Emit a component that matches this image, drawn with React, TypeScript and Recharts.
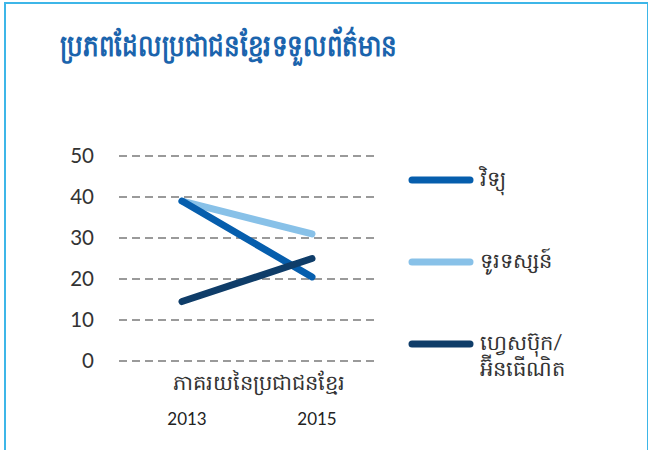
import React from "react";
import {
	LineChart,
	Line,
	XAxis,
	YAxis,
	CartesianGrid,
	Label,
} from "recharts";

const years = ["2013", "2015"];
const radio = [39, 20.5];
const tv = [39, 31];
const internet = [14.5, 25];
const yTicks = [0, 10, 20, 30, 40, 50];

const seriesNames = {
	radio: "វិទ្យុ",
	tv: "ទូរទស្សន៍",
	internet: "ហ្វេសប៊ុក/អ៊ីនធើណិត",
};

const colors = {
	radio: "#065ead",
	tv: "#88c1e8",
	internet: "#0f3d69",
};

const data = years.map((year, i) => ({
	year,
	radio: radio[i],
	tv: tv[i],
	internet: internet[i],
}));

const legendItems = [
	{ key: "radio", lines: ["វិទ្យុ"] },
	{ key: "tv", lines: ["ទូរទស្សន៍"] },
	{ key: "internet", lines: ["ហ្វេសប៊ុក/", "អ៊ីនធើណិត"] },
];

const fontFamily = "Lato, 'Noto Sans', sans-serif";

const LegendBox = () => (
	<div style={{ fontFamily }}>
		{legendItems.map((item) => (
			<div
				key={item.key}
				style={{ display: "flex", alignItems: "flex-start", height: 82 }}
			>
				<svg width={66} height={10} style={{ marginTop: 10 }}>
					<line
						x1={4}
						y1={5}
						x2={62}
						y2={5}
						stroke={colors[item.key as keyof typeof colors]}
						strokeWidth={7}
						strokeLinecap="round"
					/>
				</svg>
				<div
					style={{
						marginLeft: 6,
						fontSize: 21,
						lineHeight: "26px",
						color: "#333",
					}}
				>
					{item.lines.map((l) => (
						<div key={l}>{l}</div>
					))}
				</div>
			</div>
		))}
	</div>
);

const YearTick = (props: any) => {
	const { x, y, payload } = props;
	return (
		<text
			x={x + 5}
			y={y + 56}
			textAnchor="middle"
			fontSize={17}
			fill="#222"
			fontFamily={fontFamily}
		>
			{payload.value}
		</text>
	);
};

const App: React.FC = () => {
	return (
		<div
			style={{
				position: "absolute",
				left: 0,
				top: 0,
				width: 648,
				height: 450,
				overflow: "hidden",
				background: "#fff",
			}}
		>
			<div
				style={{
					position: "absolute",
					left: 4,
					top: 2,
					width: 641,
					height: 480,
					border: "2px solid #3db6e8",
				}}
			/>
			<div
				style={{
					position: "absolute",
					left: 60,
					top: 26,
					fontSize: 30,
					fontWeight: 700,
					color: "#1b64ad",
					fontFamily,
					whiteSpace: "nowrap",
					transform: "scaleX(0.82)",
					transformOrigin: "left center",
				}}
			>
				ប្រភពដែលប្រជាជនខ្មែរទទួលព័ត៌មាន
			</div>
			<div style={{ position: "absolute", left: 408, top: 165, width: 230 }}>
				<LegendBox />
			</div>
			<div style={{ position: "absolute", left: 0, top: 0 }}>
				<LineChart
					width={648}
					height={450}
					data={data}
					margin={{ top: 156, right: 271, bottom: 0, left: 0 }}
				>
					<CartesianGrid
						vertical={false}
						stroke="#7a7a7a"
						strokeDasharray="8 5"
						strokeWidth={1.3}
					/>
					<XAxis
						dataKey="year"
						axisLine={false}
						tickLine={false}
						height={89}
						padding={{ left: 63, right: 65 }}
						tick={<YearTick />}
					>
						<Label
							value="ភាគរយនៃប្រជាជនខ្មែរ"
							position="insideTop"
							offset={14}
							dx={11}
							fontSize={21}
							fill="#333"
							fontFamily={fontFamily}
						/>
					</XAxis>
					<YAxis
						width={119}
						domain={[0, 50]}
						ticks={yTicks}
						axisLine={false}
						tickLine={false}
						tickMargin={19}
						tick={{ fill: "#333", fontSize: 20.5, fontFamily }}
					/>
					<Line
						dataKey="tv"
						name={seriesNames.tv}
						stroke={colors.tv}
						strokeWidth={7}
						strokeLinecap="round"
						dot={false}
						isAnimationActive={false}
					/>
					<Line
						dataKey="radio"
						name={seriesNames.radio}
						stroke={colors.radio}
						strokeWidth={7}
						strokeLinecap="round"
						dot={false}
						isAnimationActive={false}
					/>
					<Line
						dataKey="internet"
						name={seriesNames.internet}
						stroke={colors.internet}
						strokeWidth={7}
						strokeLinecap="round"
						dot={false}
						isAnimationActive={false}
					/>
				</LineChart>
			</div>
		</div>
	);
};

export default App;
